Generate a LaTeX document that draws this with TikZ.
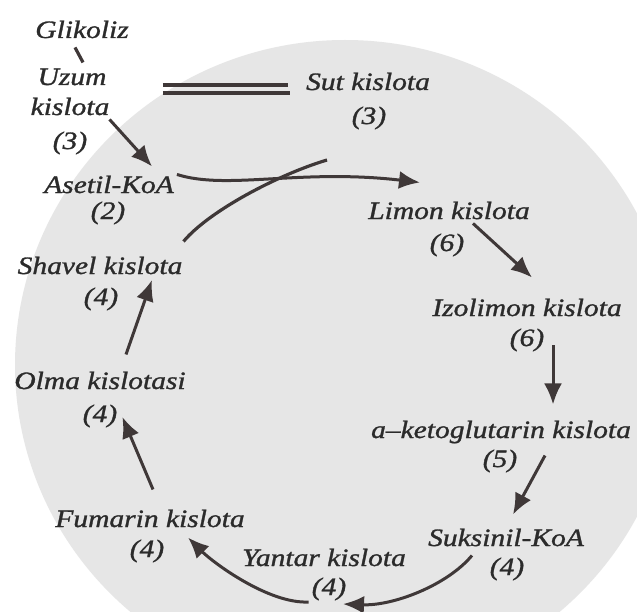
\documentclass[tikz,border=0pt]{standalone}
\usepackage{fontspec}
\setmainfont{Liberation Serif}
\newfontfamily\lblfont{Liberation Serif}[FakeStretch=1.18,FakeBold=1.2]
\usetikzlibrary{arrows.meta}
\definecolor{txt}{HTML}{2B2B2B}
\definecolor{arr}{HTML}{3F3838}
\definecolor{blob}{HTML}{E6E6E6}
\begin{document}
\begin{tikzpicture}[x=1bp,y=-1bp,
  lbl/.style={inner sep=0pt,anchor=base,text=txt,font=\lblfont\fontsize{25bp}{30bp}\selectfont\itshape},
  num/.style={inner sep=0pt,anchor=center,text=txt,font=\lblfont\fontsize{25bp}{30bp}\selectfont\itshape},
  flow/.style={draw=arr,line width=3bp,-{Latex[length=21bp,width=18bp]}},
  plain/.style={draw=arr,line width=3.2bp}]
\useasboundingbox (0,0) rectangle (637,612);
\fill[white] (0,0) rectangle (637,612);
\fill[blob] (345,365) ellipse [x radius=330, y radius=325];
% labels
\node[lbl] (glik) at (82,38) {Glikoliz};
\node[lbl] (uzum) at (72,85) {Uzum};
\node[lbl] (kis1) at (70,115) {kislota};
\node[num] (n3a) at (70,143) {(3)};
\node[lbl] (sut) at (368,90) {Sut kislota};
\node[num] (n3b) at (369,118) {(3)};
\node[lbl] (asetil) at (109,193) {Asetil-KoA};
\node[num] (n2) at (108,213) {(2)};
\node[lbl] (limon) at (449,219) {Limon kislota};
\node[num] (n6a) at (447,245) {(6)};
\node[lbl] (izo) at (527,316) {Izolimon kislota};
\node[num] (n6b) at (527,340) {(6)};
\node[lbl] (aketo) at (501,438) {a–ketoglutarin kislota};
\node[num] (n5) at (500,461) {(5)};
\node[lbl] (suks) at (506,546) {Suksinil-KoA};
\node[num] (n4k) at (507,569) {(4)};
\node[lbl] (yantar) at (324,566) {Yantar kislota};
\node[num] (n4y) at (329,589) {(4)};
\node[lbl] (fum) at (150,527) {Fumarin kislota};
\node[num] (n4f) at (147,551) {(4)};
\node[lbl] (olma) at (100,389) {Olma kislotasi};
\node[num] (n4o) at (100,416) {(4)};
\node[lbl] (shavel) at (100,274) {Shavel kislota};
\node[num] (n4s) at (101,299) {(4)};
\coordinate (join) at (327,160);
% connectors
\draw[plain] ([shift={(-7,9)}]glik.south) -- ([shift={(11,-6)}]uzum.north);
\draw[draw=arr,line width=3.5bp] ([shift={(-143,3.5)}]sut.west) -- ([shift={(-18,3.5)}]sut.west);
\draw[draw=arr,line width=3.5bp] ([shift={(-143,11.5)}]sut.west) -- ([shift={(-16,11.5)}]sut.west);
\draw[flow] ([shift={(0,4)}]kis1.south east) -- ([shift={(43,-9)}]asetil.north);
\draw[flow] ([shift={(3,-10)}]asetil.east) .. controls +(50,16) and +(-120,-14) .. ([shift={(-29,-19)}]limon.north);
\draw[plain] ([shift={(1,-15)}]shavel.north east) .. controls +(25,-30) and +(-50,15) .. (join);
\draw[flow] ([shift={(24,4)}]limon.south) -- ([shift={(5,-21)}]izo.north);
\draw[flow] ([shift={(26,29)}]izo.south) -- ([shift={(52,-16)}]aketo.north);
\draw[flow] ([shift={(44,12)}]aketo.south) -- ([shift={(7,-14)}]suks.north);
\draw[flow] ([shift={(44,9)}]suks.south west) .. controls +(-25,30) and +(50,2) .. ([shift={(14,15)}]n4y.center);
\draw[flow] ([shift={(-3,13)}]n4y.west) .. controls +(-40,2) and +(25,25) .. ([shift={(38,10)}]fum.south);
\draw[flow] ([shift={(3,-20)}]fum.north) -- ([shift={(5,1)}]n4o.east);
\draw[flow] ([shift={(26,-17)}]olma.north) -- ([shift={(51,-19)}]n4s.center);
\end{tikzpicture}
\end{document}
